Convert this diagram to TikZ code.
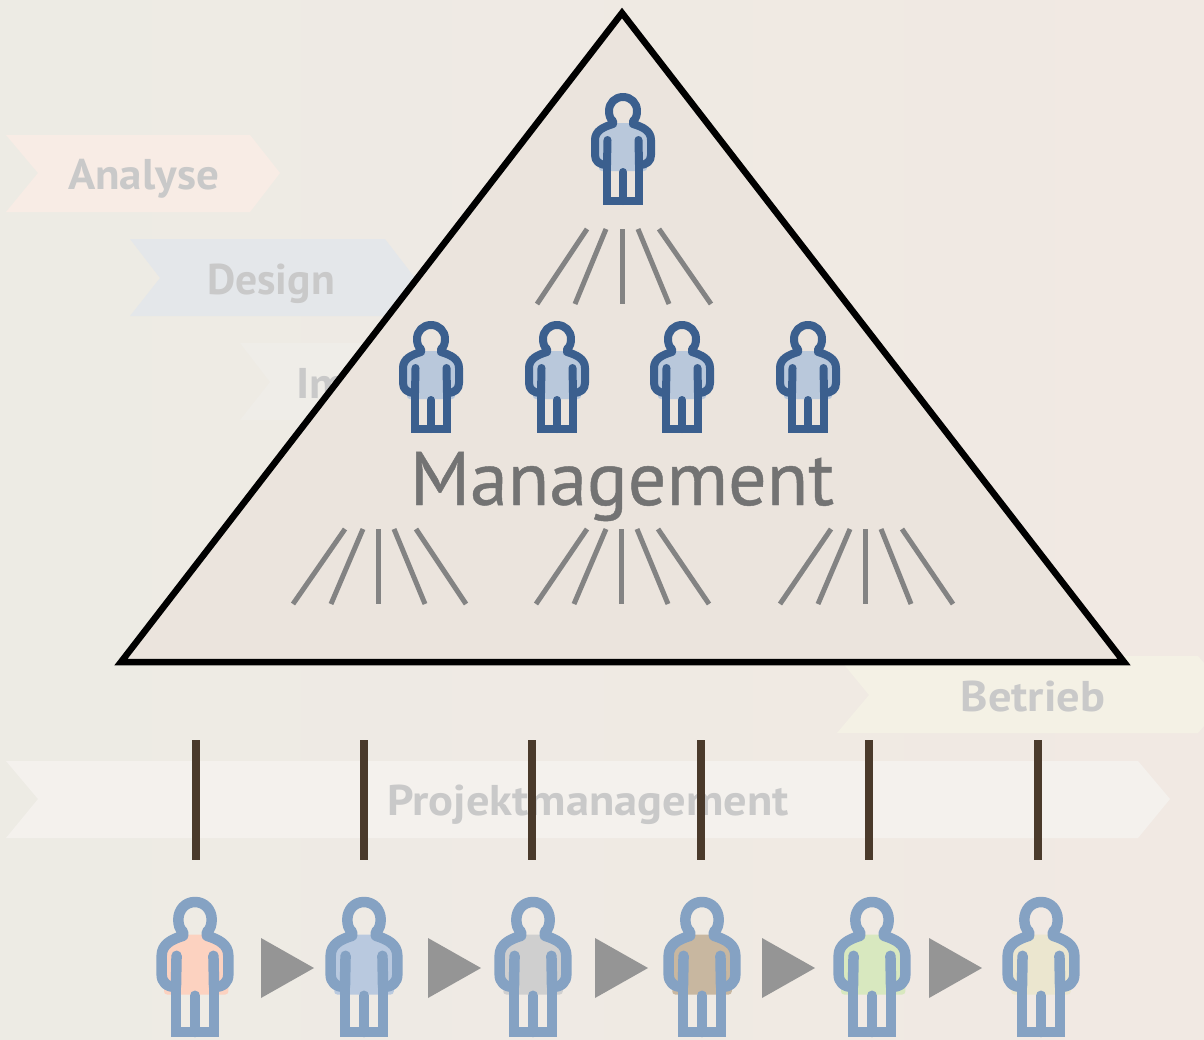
\documentclass[tikz,border=0pt]{standalone}
\usepackage{fontspec}
\setmainfont{PT Sans}
\definecolor{bgL}{HTML}{EDEBE4}
\definecolor{bgM}{HTML}{EFEBE5}
\definecolor{bgR}{HTML}{F1E9E3}
\definecolor{dkblue}{HTML}{3B5F8E}
\definecolor{ltblue}{HTML}{85A2C3}
\definecolor{faded}{HTML}{C9C9C9}
\definecolor{chevA}{HTML}{F8ECE5}
\definecolor{chevD}{HTML}{E4E7EA}
\definecolor{chevI}{HTML}{EFEDE8}
\definecolor{chevB}{HTML}{F4F1E5}
\definecolor{chevP}{HTML}{F4F1ED}
\definecolor{triFill}{HTML}{EBE4DD}
\definecolor{fanC}{HTML}{838383}
\definecolor{postC}{HTML}{4A3A2B}
\definecolor{arrC}{HTML}{959595}
\definecolor{mgmtC}{HTML}{737373}
\definecolor{tBlue}{HTML}{B9C8DB}
\definecolor{tPink}{HTML}{FCD2C0}
\definecolor{tBlueB}{HTML}{B9C9DF}
\definecolor{tGray}{HTML}{CFCFCF}
\definecolor{tTan}{HTML}{C8B7A0}
\definecolor{tGreen}{HTML}{D8E8BF}
\definecolor{tCream}{HTML}{EBE6CF}
\tikzset{
  x=1pt,y=-1pt,
  faded label/.style={text=faded,font=\fontsize{43}{43}\selectfont\bfseries,inner sep=0pt,anchor=base,xscale=1.08},
  fan line/.style={draw=fanC,line width=5pt},
  post/.style={draw=postC,line width=8pt},
  step arrow/.style={fill=arrC,draw=none},
}
\newcommand{\person}[9]{%
 \begin{scope}[shift={(#1,#2)},xscale=#3,yscale=#4]
  \fill[#7,rounded corners=3pt] ({-8+#8},30) -- ({8+#8},30) -- ({24+#8},36) -- ({#9+#8},48) -- ({#9+#8},78) -- ({-#9+#8},78) -- ({-#9+#8},48) -- ({-24+#8},36) -- cycle;
  \draw[#5,line width=#6,line join=round]
    (-16,72) .. controls (-24,72) and (-28,68) .. (-28,62) -- (-28,47)
     .. controls (-28,38) and (-20,34) .. (-10,31) -- (-10,28)
     .. controls (-13,26) and (-14,22) .. (-14,18)
     .. controls (-14,10) and (-8,4) .. (0,4) .. controls (8,4) and (14,10) .. (14,18)
     .. controls (14,22) and (13,26) .. (10,28) -- (10,31)
     .. controls (20,34) and (28,38) .. (28,47) -- (28,62)
     .. controls (28,68) and (24,72) .. (16,72);
  \draw[#5,line width=#6,line cap=round] (-15.5,47) -- (-16,72);
  \draw[#5,line width=#6,line cap=round] (15.5,47) -- (16,72);
  \draw[#5,line width=#6,line join=miter]
    (-16,72) -- (-16,108) -- (16,108) -- (16,72);
  \draw[#5,line width=#6,line cap=round] (0,108) -- (0,79);
 \end{scope}}
\newcommand{\arrowat}[1]{\fill[step arrow] (#1,938) -- ({#1+53},968) -- (#1,998) -- cycle;}
\begin{document}
\begin{tikzpicture}
\useasboundingbox (0,0) rectangle (1204,1039);
\shade[left color=bgL,middle color=bgM,right color=bgR,draw=none] (0,0) rectangle (1204,1039);
% chevrons
\fill[chevA] (6,135) -- (250,135) -- (280,173) -- (250,212) -- (6,212) -- (38,173) -- cycle;
\fill[chevD] (130,239) -- (385,239) -- (415,278) -- (385,316) -- (130,316) -- (160,278) -- cycle;
\fill[chevI] (240,343) -- (500,343) -- (500,420) -- (240,420) -- (270,382) -- cycle;
\fill[chevB] (837,656) -- (1198,656) -- (1204,663) -- (1204,726) -- (1198,733) -- (837,733) -- (869,695) -- cycle;
\fill[chevP] (6,761) -- (1138,761) -- (1170,799) -- (1138,838) -- (6,838) -- (38,799) -- cycle;
\node[faded label,xscale=0.97] (analyse) at (143.5,189) {Analyse};
\node[faded label,xscale=0.94] (design) at (271,294) {Design};
\node[faded label,anchor=base west] (impl) at (296,398) {Im};
\node[faded label] (betrieb) at (1033,711) {Betrieb};
\node[faded label] (pm) at (588,815) {Projektmanagement};
% pyramid
\draw[line width=6.5pt,fill=triFill,draw=black,miter limit=10] (622,13) -- (1124,662) -- (121,662) -- cycle;
\person{623}{93}{1}{1}{dkblue}{8pt}{tBlue}{0}{24}
\person{431}{321}{1}{1}{dkblue}{8pt}{tBlue}{0}{24}
\person{557}{321}{1}{1}{dkblue}{8pt}{tBlue}{0}{24}
\person{682}{321}{1}{1}{dkblue}{8pt}{tBlue}{0}{24}
\person{808}{321}{1}{1}{dkblue}{8pt}{tBlue}{0}{24}
\foreach \a/\b in {587/537,606/575,622/622,638/669,659/711} \draw[fan line] (\a,229) -- (\b,304);
\foreach \a/\b in {345/293,363/331,378/378,394/425,416/466} \draw[fan line] (\a,529) -- (\b,604);
\foreach \a/\b in {587/536,606/574,621/621,637/668,658/709} \draw[fan line] (\a,529) -- (\b,604);
\foreach \a/\b in {831/780,850/818,865/865,881/911,902/953} \draw[fan line] (\a,529) -- (\b,604);
\node[text=mgmtC,font=\fontsize{76}{76}\selectfont\addfontfeature{FakeBold=0.6},inner sep=0pt,anchor=base] (mgmt) at (622,505) {Management};
% posts
\foreach \x in {196,364,532,701,869,1038} \draw[post] (\x,740) -- (\x,860);
% team
\person{195}{897}{1.19}{1.25}{ltblue}{10.5pt}{tPink}{1}{27}
\person{364}{897}{1.19}{1.25}{ltblue}{10.5pt}{tBlueB}{0}{25}
\person{533}{897}{1.19}{1.25}{ltblue}{10.5pt}{tGray}{0}{25}
\person{702}{897}{1.19}{1.25}{ltblue}{10.5pt}{tTan}{0}{25}
\person{872}{897}{1.19}{1.25}{ltblue}{10.5pt}{tGreen}{1}{27}
\person{1041}{897}{1.19}{1.25}{ltblue}{10.5pt}{tCream}{0}{25}
\arrowat{261}\arrowat{428}\arrowat{595}\arrowat{762}\arrowat{929}
\end{tikzpicture}
\end{document}
